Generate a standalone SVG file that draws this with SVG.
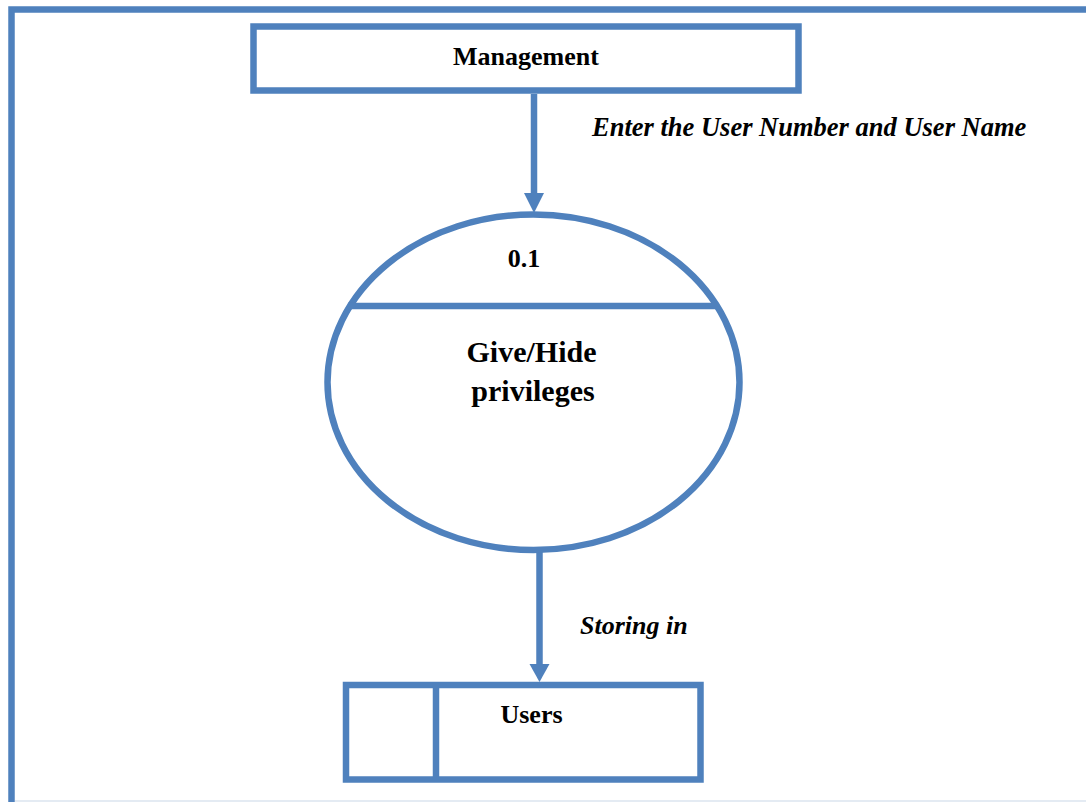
<svg xmlns="http://www.w3.org/2000/svg" width="1086" height="802" viewBox="0 0 1086 802">
<style>
.s{fill:none;stroke:#4F81BD;stroke-width:6.5}
.h{fill:#4F81BD;stroke:none}
.t{font-family:"Liberation Serif","Times New Roman",serif;font-weight:bold;fill:#000}
.i{font-style:italic}
</style>
<rect width="1086" height="802" fill="#fff"/>
<g id="frame">
<path class="s" d="M11.5,802 V9.5 H1086"/>
<line x1="15" y1="801" x2="1086" y2="801" stroke="#dbe4ef" stroke-width="1.5"/>
</g>
<g id="connectors">
<line class="s" x1="534" y1="94" x2="534" y2="196"/>
<polygon class="h" points="524,193 544,193 534,213"/>
<line class="s" x1="539.5" y1="550" x2="539.5" y2="667"/>
<polygon class="h" points="529.5,664 549.5,664 539.5,682"/>
<text class="t i" x="592" y="136" font-size="26.5">Enter the User Number and User Name</text>
<text class="t i" x="580" y="634" font-size="26">Storing in</text>
</g>
<g id="management">
<rect class="s" x="253.5" y="26.5" width="545" height="64"/>
<text class="t" x="526" y="65" font-size="26" text-anchor="middle">Management</text>
</g>
<g id="process">
<ellipse class="s" cx="533.5" cy="382.25" rx="206" ry="167.75"/>
<line class="s" x1="348" y1="306" x2="716" y2="306"/>
<text class="t" x="524" y="267" font-size="26" text-anchor="middle">0.1</text>
<text class="t" x="531.5" y="362" font-size="30" text-anchor="middle">Give/Hide</text>
<text class="t" x="533" y="401" font-size="30" text-anchor="middle">privileges</text>
</g>
<g id="users">
<rect class="s" x="346" y="685" width="354.5" height="94.5"/>
<line class="s" x1="436" y1="685" x2="436" y2="779.5"/>
<text class="t" x="531.5" y="723" font-size="26" text-anchor="middle">Users</text>
</g>
</svg>
